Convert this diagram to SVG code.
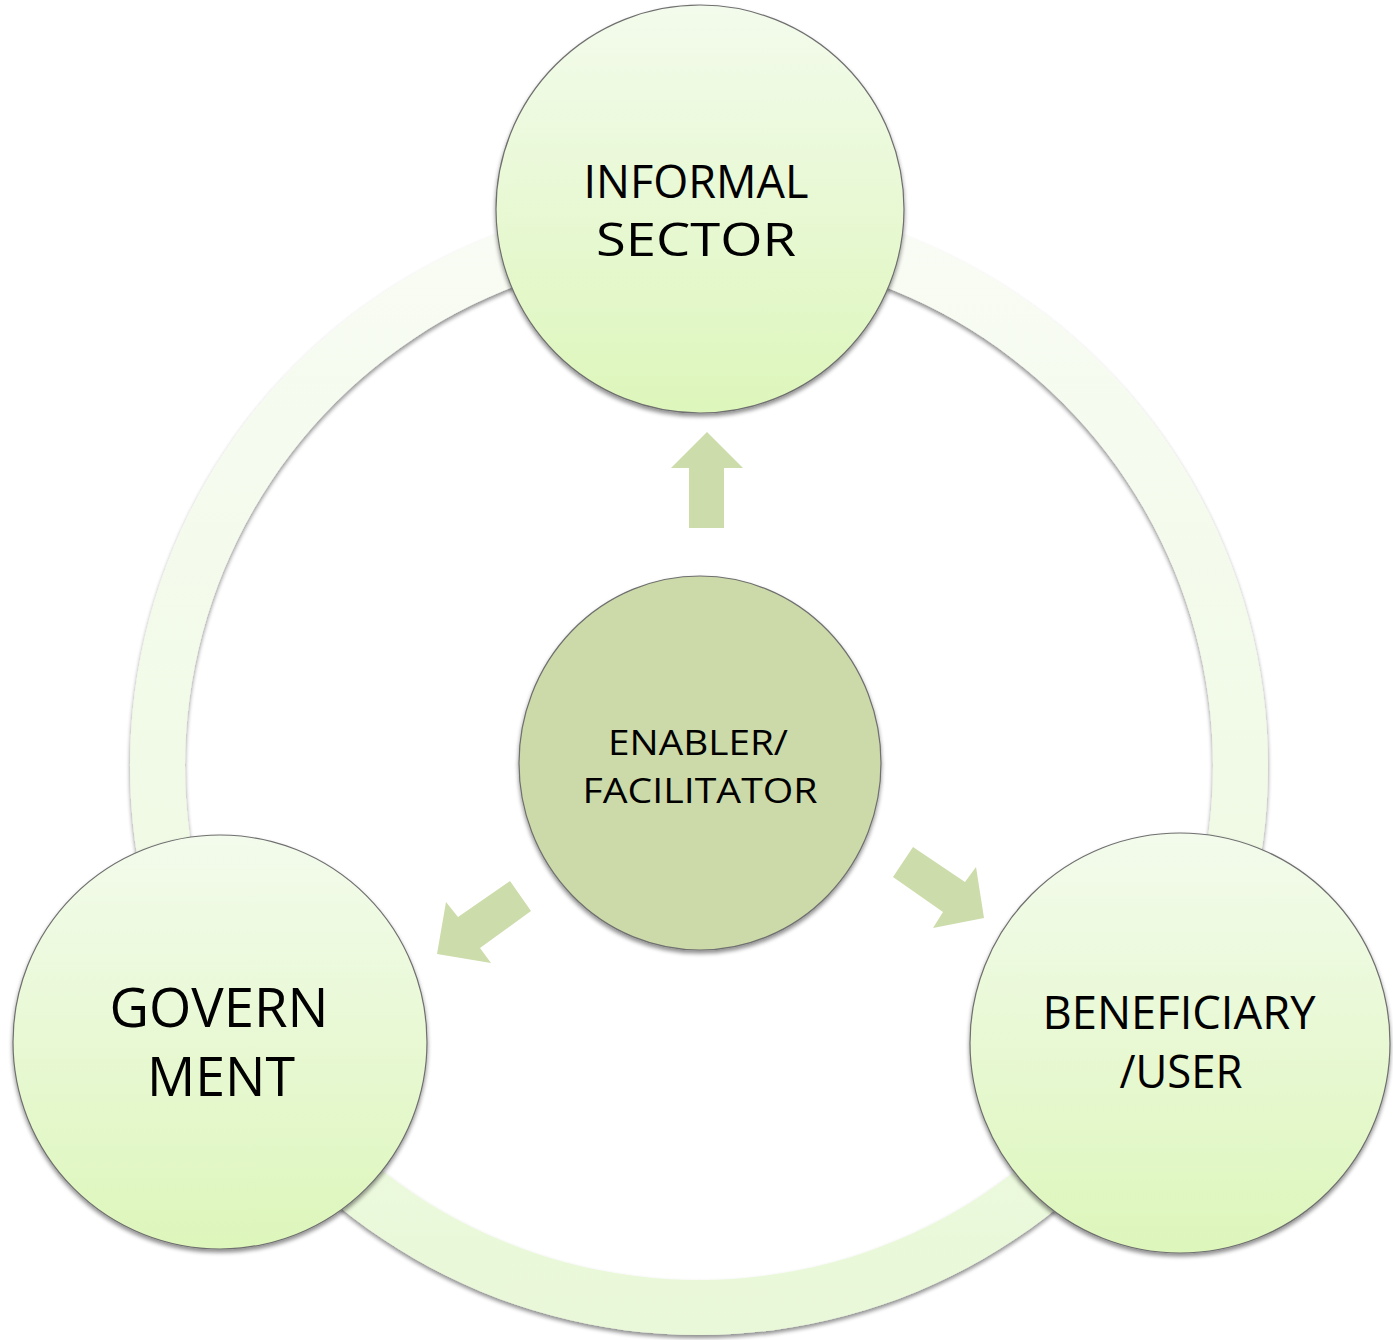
<svg xmlns="http://www.w3.org/2000/svg" width="1393" height="1340" viewBox="0 0 1393 1340">
  <defs>
    <linearGradient id="ringGrad" x1="0" y1="0" x2="0" y2="1">
      <stop offset="0" stop-color="#f9fcf5"/>
      <stop offset="1" stop-color="#e9f8d8"/>
    </linearGradient>
    <linearGradient id="nodeGrad" x1="0" y1="0" x2="0" y2="1">
      <stop offset="0" stop-color="#f3fbec"/>
      <stop offset="1" stop-color="#ddf6bb"/>
    </linearGradient>
    <filter id="shadow" x="-10%" y="-10%" width="120%" height="120%">
      <feGaussianBlur in="SourceAlpha" stdDeviation="2"/>
      <feOffset dx="0" dy="3" result="b"/>
      <feComponentTransfer><feFuncA type="linear" slope="0.45"/></feComponentTransfer>
      <feMerge><feMergeNode/><feMergeNode in="SourceGraphic"/></feMerge>
    </filter>
    <style>
      .node { fill: url(#nodeGrad); stroke: #6f6f6f; stroke-width: 1.2; filter: url(#shadow); }
      .hub { fill: #ccdaa9; stroke: #6f6f6f; stroke-width: 1.2; filter: url(#shadow); }
      .arrow { fill: #cddcab; }
      .lbl { font-family: "Open Sans", "Liberation Sans", Arial, sans-serif; fill: #000; text-anchor: middle; }
    </style>
  </defs>

  <g id="ring">
    <path d="M 699 197 A 569 569 0 1 1 698.99 197 Z M 699 252 A 514 514 0 1 0 699.01 252 Z" fill="url(#ringGrad)" fill-rule="evenodd" filter="url(#shadow)"/>
  </g>

  <g id="hub">
    <ellipse class="hub" cx="700" cy="763" rx="181" ry="187"/>
    <text class="lbl" x="698" y="755" font-size="35" textLength="180" lengthAdjust="spacingAndGlyphs">ENABLER/</text>
    <text class="lbl" x="700" y="803" font-size="35" textLength="235" lengthAdjust="spacingAndGlyphs">FACILITATOR</text>
  </g>

  <g id="connectors">
    <polygon class="arrow" points="689,528 724,528 724,468 743,468 707,432 671,468 689,468"/>
    <polygon class="arrow" points="510,881 531,911 480,948 491,963 437,954 446,902 458,917"/>
    <polygon class="arrow" points="913,847 893,877 943,912 933,928 984,918 976,867 965,882"/>
  </g>

  <g id="informal">
    <circle class="node" cx="700" cy="209" r="204"/>
    <text class="lbl" x="696" y="198" font-size="46" textLength="225" lengthAdjust="spacingAndGlyphs">INFORMAL</text>
    <text class="lbl" x="696" y="256" font-size="46" textLength="200" lengthAdjust="spacingAndGlyphs">SECTOR</text>
  </g>

  <g id="government">
    <circle class="node" cx="220" cy="1042" r="207"/>
    <text class="lbl" x="219" y="1027" font-size="54" textLength="219" lengthAdjust="spacingAndGlyphs">GOVERN</text>
    <text class="lbl" x="221" y="1096" font-size="54" textLength="148" lengthAdjust="spacingAndGlyphs">MENT</text>
  </g>

  <g id="beneficiary">
    <circle class="node" cx="1180" cy="1043" r="210"/>
    <text class="lbl" x="1179" y="1029" font-size="45" textLength="273" lengthAdjust="spacingAndGlyphs">BENEFICIARY</text>
    <text class="lbl" x="1181" y="1088" font-size="45" textLength="123" lengthAdjust="spacingAndGlyphs">/USER</text>
  </g>
</svg>
